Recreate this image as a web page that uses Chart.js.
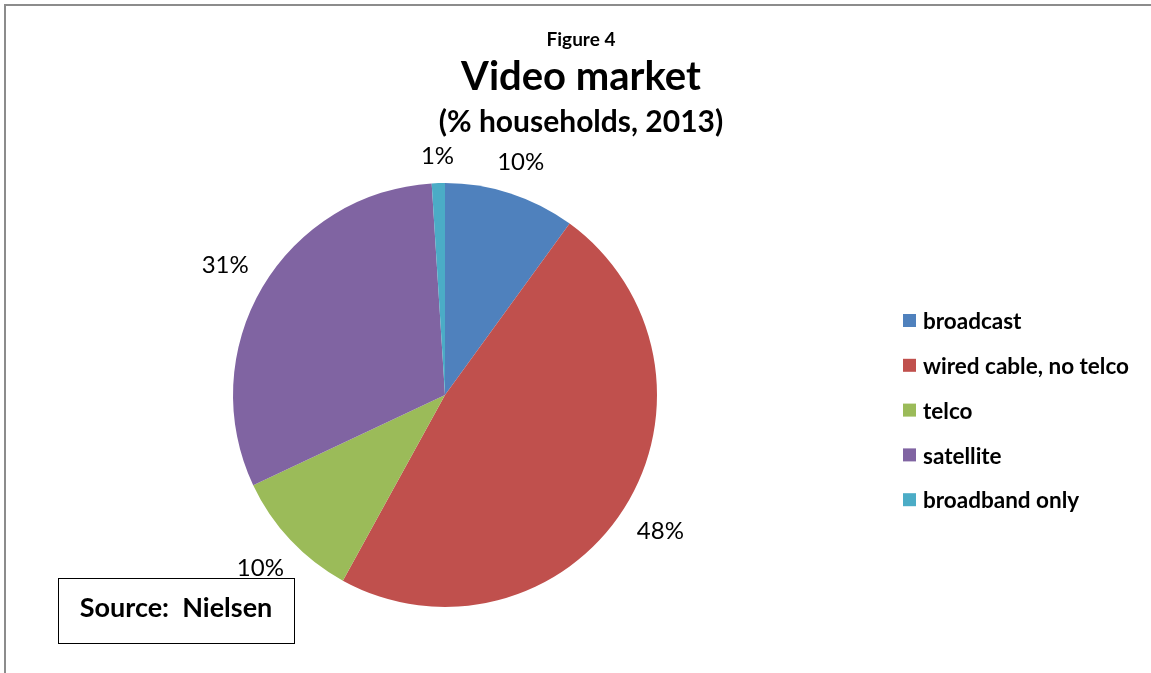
<!DOCTYPE html>
<html>
<head>
<meta charset="utf-8">
<script src="https://cdn.jsdelivr.net/npm/chart.js@4"></script>
<style>
  html, body { margin: 0; padding: 0; background: #fff; }
  #wrap { position: relative; width: 1151px; height: 673px; overflow: hidden; }
  #frame { position: absolute; left: 4px; top: 4px; right: -10px; bottom: -10px;
           border-top: 2px solid #8c8c8c; border-left: 2px solid #8c8c8c; }
  canvas { position: absolute; left: 0; top: 0; }
</style>
</head>
<body>
<div id="wrap">
  <div id="frame"></div>
  <canvas id="pie" width="1151" height="673"></canvas>
</div>
<script>
// Video market shares, % of households (2013)
const categories = ['broadcast', 'wired cable, no telco', 'telco', 'satellite', 'broadband only'];
const shares = [10, 48, 10, 31, 1];
const sliceColors = ['#4F81BD', '#C0504D', '#9BBB59', '#8064A2', '#4BACC6'];

const titleLines = ['Figure 4', 'Video market', '(% households, 2013)'];
const sourceNote = 'Source:  Nielsen';

const FONT = 'Lato, "Open Sans", sans-serif';

// Headings, legend and source box drawn on top of the pie
const decorations = {
    id: 'decorations',
    afterDraw(chart) {
        const ctx = chart.ctx;
        ctx.save();
        ctx.fillStyle = '#000';
        ctx.textAlign = 'center';
        ctx.textBaseline = 'middle';

        ctx.font = 'bold 19px ' + FONT;
        ctx.fillText(titleLines[0], 581, 40);
        ctx.font = 'bold 40px ' + FONT;
        ctx.fillText(titleLines[1], 581, 77);
        ctx.font = 'bold 30px ' + FONT;
        ctx.fillText(titleLines[2], 581, 122);

        // legend
        ctx.textAlign = 'left';
        ctx.font = 'bold 22.5px ' + FONT;
        const labels = chart.data.labels;
        const colors = chart.data.datasets[0].backgroundColor;
        labels.forEach((lab, i) => {
            const y = 321 + i * 44.8;
            ctx.fillStyle = colors[i];
            ctx.fillRect(903, y - 7, 13, 13);
            ctx.fillStyle = '#000';
            ctx.fillText(lab, 923, y + 1);
        });

        // source box
        ctx.strokeStyle = '#000';
        ctx.lineWidth = 1;
        ctx.strokeRect(58.5, 578.5, 236, 65);
        ctx.textAlign = 'center';
        ctx.font = 'bold 27px ' + FONT;
        ctx.fillText(sourceNote, 176, 608);
        ctx.restore();
    }
};

// Percent labels outside the end of each slice
const outsideLabels = {
    id: 'outsideLabels',
    afterDatasetsDraw(chart) {
        const ctx = chart.ctx;
        const meta = chart.getDatasetMeta(0);
        const values = chart.data.datasets[0].data;
        ctx.save();
        ctx.font = '24px ' + FONT;
        ctx.fillStyle = '#000';
        ctx.textAlign = 'center';
        ctx.textBaseline = 'middle';
        meta.data.forEach((arc, i) => {
            const text = values[i] + '%';
            const mid = (arc.startAngle + arc.endAngle) / 2;
            const dx = Math.cos(mid), dy = Math.sin(mid);
            const w = ctx.measureText(text).width;
            const h = 12;
            const dist = arc.outerRadius + 20 + Math.abs(dx) * w / 2 + Math.abs(dy) * h / 2;
            ctx.fillText(text, arc.x + dx * dist, arc.y + dy * dist);
        });
        ctx.restore();
    }
};

new Chart(document.getElementById('pie'), {
    type: 'pie',
    data: {
        labels: categories,
        datasets: [{
            data: shares,
            backgroundColor: sliceColors,
            borderWidth: 0
        }]
    },
    options: {
        responsive: false,
        animation: false,
        layout: { padding: { left: 233, right: 494, top: 183, bottom: 66 } },
        plugins: {
            legend: { display: false },
            title: { display: false },
            tooltip: { enabled: false }
        }
    },
    plugins: [outsideLabels, decorations]
});
</script>
</body>
</html>
